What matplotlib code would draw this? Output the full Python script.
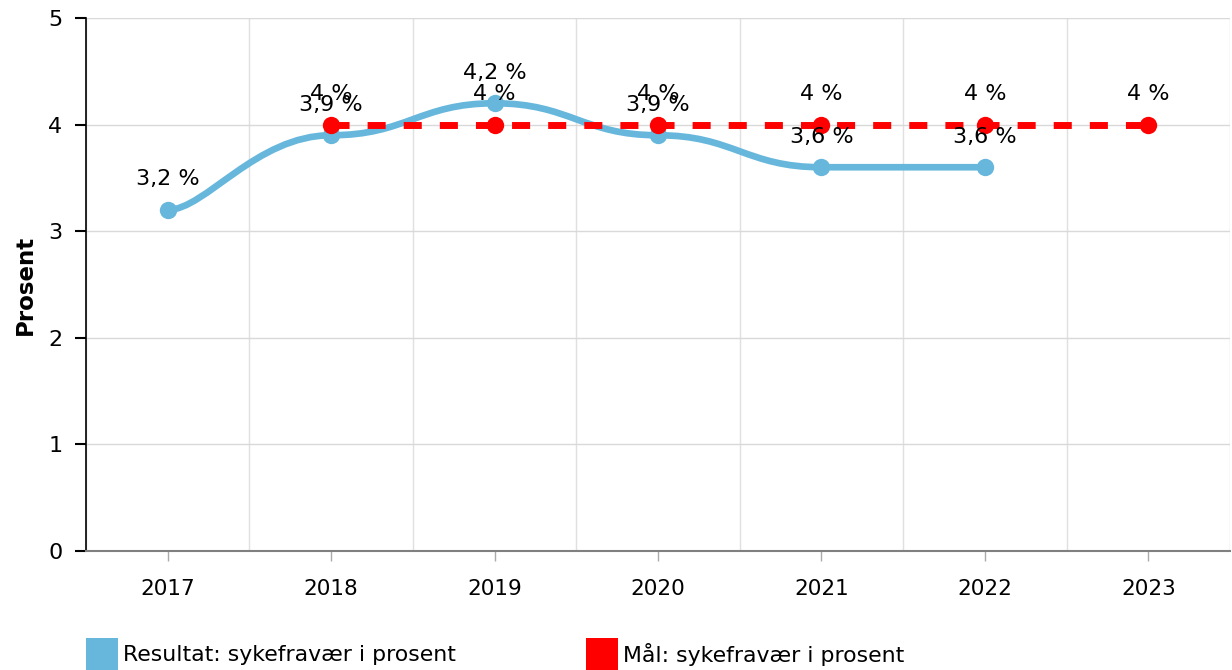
import matplotlib
matplotlib.use("Agg")
import matplotlib.pyplot as plt
import numpy as np
from matplotlib.path import Path
from matplotlib.patches import PathPatch, Rectangle

years = ["2017", "2018", "2019", "2020", "2021", "2022", "2023"]
resultat = [3.2, 3.9, 4.2, 3.9, 3.6, 3.6, None]
maal = [None, 4, 4, 4, 4, 4, 4]
resultat_labels = ["3,2 %", "3,9 %", "4,2 %", "3,9 %", "3,6 %", "3,6 %", None]
maal_labels = [None, "4 %", "4 %", "4 %", "4 %", "4 %", "4 %"]
series_names = ["Resultat: sykefravær i prosent", "Mål: sykefravær i prosent"]

blue = "#67b7dc"
red = "#ff0000"

plt.rcParams['font.family'] = ['DejaVu Sans']


def tension_path(xs, ys, tx=0.77):
    # smoothed line: bezier controls pushed along x only (tensionY = 1)
    a = 1 - tx
    n = len(xs)
    verts = [(xs[0], ys[0])]
    codes = [Path.MOVETO]
    for i in range(n - 1):
        p0 = i - 1 if i > 0 else i
        p3 = i + 2 if i + 2 < n else i + 1
        c1 = (xs[i] + (xs[i + 1] - xs[p0]) * a, ys[i])
        c2 = (xs[i + 1] - (xs[p3] - xs[i]) * a, ys[i + 1])
        verts += [c1, c2, (xs[i + 1], ys[i + 1])]
        codes += [Path.CURVE4] * 3
    return Path(verts, codes)


fig = plt.figure(figsize=(12.32, 6.70), dpi=100)
ax = fig.add_axes([86 / 1232, 1 - 551 / 670, 1144 / 1232, 533 / 670])

x = np.arange(len(years))

# result series (smoothed)
bx = [i for i, v in enumerate(resultat) if v is not None]
by = [v for v in resultat if v is not None]
ax.add_patch(PathPatch(tension_path(bx, by), facecolor='none', edgecolor=blue,
                       lw=4.8, capstyle='round', joinstyle='round', zorder=3))
ax.plot(bx, by, 'o', color=blue, markersize=12.5, markeredgewidth=0, zorder=4)

# goal series (dashed)
rx = [i for i, v in enumerate(maal) if v is not None]
ry = [v for v in maal if v is not None]
ax.plot(rx, ry, color=red, lw=5, dashes=(2.6, 2.6), dash_capstyle='butt', zorder=5)
ax.plot(rx, ry, 'o', color=red, markersize=12.5, markeredgewidth=0, zorder=6)

for i, v in enumerate(resultat):
    if v is not None:
        ax.annotate(resultat_labels[i], (i, v), xytext=(0, 22), textcoords='offset points',
                    ha='center', va='center', fontsize=16, zorder=7)
for i, v in enumerate(maal):
    if v is not None:
        ax.annotate(maal_labels[i], (i, v), xytext=(0, 22), textcoords='offset points',
                    ha='center', va='center', fontsize=16, zorder=7)

ax.set_xlim(-0.49, 6.49)
ax.set_ylim(0, 5)
ax.set_xticks(x)
ax.set_xticklabels(years, fontsize=15.5)
ax.set_xticks(np.arange(-0.5, 7, 1), minor=True)
ax.set_yticks(range(0, 6))
ax.set_yticklabels([str(v) for v in range(0, 6)], fontsize=16)
ax.tick_params(axis='x', which='major', length=7, width=1, color='#aaaaaa', pad=13)
ax.tick_params(axis='x', which='minor', length=0)
ax.tick_params(axis='y', length=8, width=1.5, color='black', pad=9)
ax.grid(axis='y', color='#d9d9d9', lw=1)
ax.grid(axis='x', which='minor', color='#e0e0e0', lw=1)
ax.set_axisbelow(True)
for s in ['top', 'right']:
    ax.spines[s].set_visible(False)
ax.spines['left'].set_color('black')
ax.spines['left'].set_linewidth(1.2)
ax.spines['bottom'].set_color('#808080')
ax.spines['bottom'].set_linewidth(1.5)
ax.set_ylabel("Prosent", fontsize=16.5, fontweight='bold', labelpad=8)

# legend
for (lx, col, name) in [(86, blue, series_names[0]), (586, red, series_names[1])]:
    fig.add_artist(Rectangle((lx / 1232, 1 - 670 / 670), 32 / 1232, 32 / 670,
                             transform=fig.transFigure, facecolor=col, edgecolor='none'))
    fig.text((lx + 37) / 1232, 1 - 655 / 670, name, fontsize=15.8, va='center', ha='left')

fig.savefig("out.png", dpi=100)
